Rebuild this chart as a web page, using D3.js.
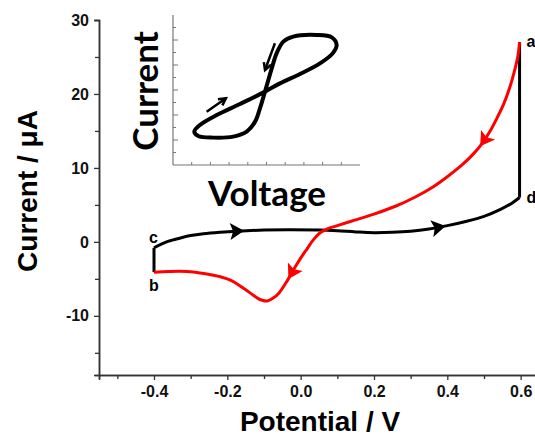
<!DOCTYPE html>
<html lang="en">
<head>
<meta charset="UTF-8">
<title>Cyclic voltammogram</title>
<script src="https://d3js.org/d3.v7.min.js"></script>
<style>
  body { margin: 0; background: #fff; }
  svg text { font-family: "Liberation Sans", Arial, sans-serif; font-weight: bold; }
</style>
</head>
<body>
<div id="chart"></div>
<script>
// ---- data ----
// forward scan b -> c -> d -> a (black)
var blackCurve = [
  [-0.4, -4.1], [-0.4, -0.8], [-0.38, -0.3], [-0.36, 0.1], [-0.33, 0.5], [-0.3, 0.85],
  [-0.265, 1.1], [-0.22, 1.3], [-0.173, 1.45], [-0.1, 1.6], [-0.036, 1.65], [0.05, 1.6],
  [0.1, 1.5], [0.15, 1.35], [0.2, 1.25], [0.25, 1.3], [0.3, 1.45], [0.35, 1.75], [0.4, 2.2],
  [0.45, 2.75], [0.5, 3.45], [0.545, 4.4], [0.575, 5.2], [0.597, 6.0], [0.597, 27.0]
];
// reverse scan a -> b (red)
var redCurve = [
  [0.597, 27.0], [0.592, 25.0], [0.584, 23.3], [0.571, 21.0], [0.555, 18.8], [0.536, 16.8],
  [0.518, 15.1], [0.496, 13.4], [0.473, 12.0], [0.44, 10.4], [0.405, 9.0], [0.363, 7.5],
  [0.31, 6.0], [0.26, 4.85], [0.2, 3.75], [0.145, 2.9], [0.1, 2.2], [0.075, 1.8], [0.055, 1.3],
  [0.035, 0.3], [0.018, -0.9], [0.0, -2.2], [-0.015, -3.4], [-0.036, -5.2], [-0.059, -6.9],
  [-0.075, -7.6], [-0.091, -8.0], [-0.105, -7.9], [-0.118, -7.6], [-0.135, -7.0], [-0.155, -6.3],
  [-0.19, -5.2], [-0.22, -4.7], [-0.26, -4.3], [-0.31, -4.0], [-0.36, -4.0], [-0.4, -4.1]
];
// direction arrows, placed on the curve near these points
var blackArrows = [[-0.173, 1.45], [0.376, 2.0]];
var redArrows = [[0.5, 13.7], [-0.02, -4.3]];
// point labels
var pointLabels = [
  {t: 'a', x: 0.597, y: 27.0}, {t: 'd', x: 0.597, y: 6.0},
  {t: 'c', x: -0.4, y: -0.8}, {t: 'b', x: -0.4, y: -4.1}
];
var xMajor = [-0.4, -0.2, 0.0, 0.2, 0.4, 0.6];
var xMinor = [-0.5, -0.3, -0.1, 0.1, 0.3, 0.5];
var yMajor = [-10, 0, 10, 20, 30];
var yMinor = [-15, -5, 5, 15, 25];

// inset: pinched hysteresis loop (arbitrary units)
var insetLoop = [
  [4.92, 5.87], [5.28, 7.73], [5.54, 8.93], [5.9, 9.87], [6.43, 10.27], [7.68, 10.4],
  [8.49, 10.21], [8.75, 9.6], [8.54, 8.93], [7.86, 8.13], [6.79, 7.28], [5.72, 6.53],
  [4.92, 5.87], [3.58, 4.88], [2.34, 4.0], [1.44, 3.2], [1.14, 2.67], [1.35, 2.32],
  [2.16, 2.19], [3.22, 2.27], [3.94, 2.67], [4.39, 3.47], [4.65, 4.53]
];
var insetArrows = [[[1.8, 4.26], [2.83, 5.34]], [[5.45, 9.74], [4.92, 7.6]]];
var insetXTicks = [1, 2, 3, 4, 5, 6, 7, 8, 9];
var insetYTicks = [1, 2, 3, 4, 5, 6, 7, 8, 9, 10, 11];

// ---- chart ----
var w = 535, h = 437;
var svg = d3.select('#chart').append('svg').attr('width', w).attr('height', h);

var x = d3.scaleLinear().domain([-0.55, 0.65]).range([99, 539]);
var y = d3.scaleLinear().domain([-18, 30]).range([375, 20]);
var axisColor = '#333';

// minor ticks
svg.append('g').attr('transform', 'translate(0,' + y(-18) + ')')
  .call(d3.axisBottom(x).tickValues(xMinor).tickSize(4).tickFormat(''));
svg.append('g').attr('transform', 'translate(' + x(-0.55) + ',0)')
  .call(d3.axisLeft(y).tickValues(yMinor).tickSize(4).tickFormat(''));
// major ticks
var xAx = svg.append('g').attr('transform', 'translate(0,' + y(-18) + ')')
  .call(d3.axisBottom(x).tickValues(xMajor).tickSize(5).tickPadding(6)
    .tickFormat(d3.format('.1f')));
var yAx = svg.append('g').attr('transform', 'translate(' + x(-0.55) + ',0)')
  .call(d3.axisLeft(y).tickValues(yMajor).tickSize(5).tickPadding(5)
    .tickFormat(d3.format('d')));
svg.selectAll('.domain').attr('stroke', axisColor).attr('stroke-width', 1.5);
svg.selectAll('.tick line').attr('stroke', axisColor).attr('stroke-width', 1.3);
xAx.selectAll('text').attr('font-size', 16).attr('fill', '#111')
  .text(function(d){ return d3.format('.1f')(d).replace('\u2212', '-'); });
yAx.selectAll('text').attr('font-size', 16).attr('fill', '#111')
  .text(function(d){ return String(d); });
svg.selectAll('.tick text').style('font-family', '"Liberation Sans", Arial, sans-serif')
  .style('font-weight', 'bold');

// axis titles
svg.append('text')
  .attr('transform', 'translate(37,191) rotate(-90)')
  .attr('text-anchor', 'middle')
  .attr('font-size', 28)
  .text('Current / \u03bcA');
svg.append('text')
  .attr('x', 320).attr('y', 431)
  .attr('text-anchor', 'middle')
  .attr('font-size', 28)
  .text('Potential / V');

// curves: vertical steps straight, the rest smoothed
var smooth = d3.line().x(function(d){ return x(d[0]); }).y(function(d){ return y(d[1]); })
  .curve(d3.curveCatmullRom.alpha(0.5));
var straight = d3.line().x(function(d){ return x(d[0]); }).y(function(d){ return y(d[1]); });

svg.append('path').datum(blackCurve.slice(0, 2))
  .attr('d', straight).attr('fill', 'none').attr('stroke', '#000').attr('stroke-width', 3);
svg.append('path').datum(blackCurve.slice(-2))
  .attr('d', straight).attr('fill', 'none').attr('stroke', '#000').attr('stroke-width', 3);
var blackPath = svg.append('path').datum(blackCurve.slice(1, -1))
  .attr('d', smooth).attr('fill', 'none').attr('stroke', '#000').attr('stroke-width', 3)
  .attr('stroke-linejoin', 'round');
var redPath = svg.append('path').datum(redCurve)
  .attr('d', smooth).attr('fill', 'none').attr('stroke', '#f00').attr('stroke-width', 3);

// put a filled arrow head on a path at the point closest to p
function arrowOn(path, p, color) {
  var node = path.node(), L = node.getTotalLength();
  var px = x(p[0]), py = y(p[1]), best = 0, bd = Infinity;
  for (var s = 0; s <= L; s += 0.5) {
    var q = node.getPointAtLength(s);
    var dd = (q.x - px) * (q.x - px) + (q.y - py) * (q.y - py);
    if (dd < bd) { bd = dd; best = s; }
  }
  var a = node.getPointAtLength(Math.max(0, best - 3));
  var b = node.getPointAtLength(Math.min(L, best + 3));
  var c = node.getPointAtLength(best);
  var ang = Math.atan2(b.y - a.y, b.x - a.x) * 180 / Math.PI;
  svg.append('path')
    .attr('d', 'M7,0 L-7,-8.5 L-4,0 L-7,8.5 Z')
    .attr('fill', color)
    .attr('transform', 'translate(' + c.x + ',' + c.y + ') rotate(' + ang + ')');
}
blackArrows.forEach(function(p){ arrowOn(blackPath, p, '#000'); });
redArrows.forEach(function(p){ arrowOn(redPath, p, '#f00'); });

// point labels
svg.selectAll('.pt').data(pointLabels).enter().append('text')
  .attr('class', 'pt')
  .attr('font-size', 16)
  .attr('x', function(d){ return d.t === 'a' || d.t === 'd' ? x(d.x) + 7 : x(d.x) - 5; })
  .attr('y', function(d){
    if (d.t === 'a') return y(d.y) + 5;
    if (d.t === 'd') return y(d.y) + 5;
    if (d.t === 'c') return y(d.y) - 5;
    return y(d.y) + 19;
  })
  .text(function(d){ return d.t; });

// ---- inset ----
var ix = d3.scaleLinear().domain([0, 10]).range([173, 360]);
var iy = d3.scaleLinear().domain([0, 12]).range([165, 15]);
var inset = svg.append('g');
var insetColor = '#777';
inset.append('line').attr('x1', ix(0)).attr('x2', ix(0)).attr('y1', iy(0)).attr('y2', iy(12))
  .attr('stroke', insetColor).attr('stroke-width', 1.2);
inset.append('line').attr('x1', ix(0)).attr('x2', ix(10)).attr('y1', iy(0)).attr('y2', iy(0))
  .attr('stroke', insetColor).attr('stroke-width', 1.2);
inset.selectAll('.ixt').data(insetXTicks).enter().append('line')
  .attr('x1', function(d){ return ix(d); }).attr('x2', function(d){ return ix(d); })
  .attr('y1', iy(0)).attr('y2', iy(0) - 3)
  .attr('stroke', insetColor).attr('stroke-width', 1);
inset.selectAll('.iyt').data(insetYTicks).enter().append('line')
  .attr('x1', ix(0)).attr('x2', function(d){ return ix(0) + (d % 2 === 0 ? 5 : 3); })
  .attr('y1', function(d){ return iy(d); }).attr('y2', function(d){ return iy(d); })
  .attr('stroke', insetColor).attr('stroke-width', 1);

var iline = d3.line().x(function(d){ return ix(d[0]); }).y(function(d){ return iy(d[1]); })
  .curve(d3.curveCatmullRomClosed.alpha(0.5));
inset.append('path').datum(insetLoop).attr('d', iline)
  .attr('fill', 'none').attr('stroke', '#000').attr('stroke-width', 4);

insetArrows.forEach(function(ar){
  var x1 = ix(ar[0][0]), y1 = iy(ar[0][1]), x2 = ix(ar[1][0]), y2 = iy(ar[1][1]);
  var ang = Math.atan2(y2 - y1, x2 - x1);
  inset.append('line').attr('x1', x1).attr('y1', y1).attr('x2', x2).attr('y2', y2)
    .attr('stroke', '#000').attr('stroke-width', 2.5);
  var hl = 8, ha = 0.5;
  inset.append('path')
    .attr('d', 'M' + (x2 - hl * Math.cos(ang - ha)) + ',' + (y2 - hl * Math.sin(ang - ha)) +
      ' L' + x2 + ',' + y2 +
      ' L' + (x2 - hl * Math.cos(ang + ha)) + ',' + (y2 - hl * Math.sin(ang + ha)))
    .attr('fill', 'none').attr('stroke', '#000').attr('stroke-width', 2.5);
});

inset.append('text')
  .attr('transform', 'translate(158,91) rotate(-90)')
  .attr('text-anchor', 'middle')
  .style('font-family', 'Lato, "Open Sans", sans-serif')
  .attr('font-size', 35)
  .text('Current');
inset.append('text')
  .attr('x', 267).attr('y', 206)
  .attr('text-anchor', 'middle')
  .style('font-family', 'Lato, "Open Sans", sans-serif')
  .attr('font-size', 35)
  .text('Voltage');
</script>
</body>
</html>
